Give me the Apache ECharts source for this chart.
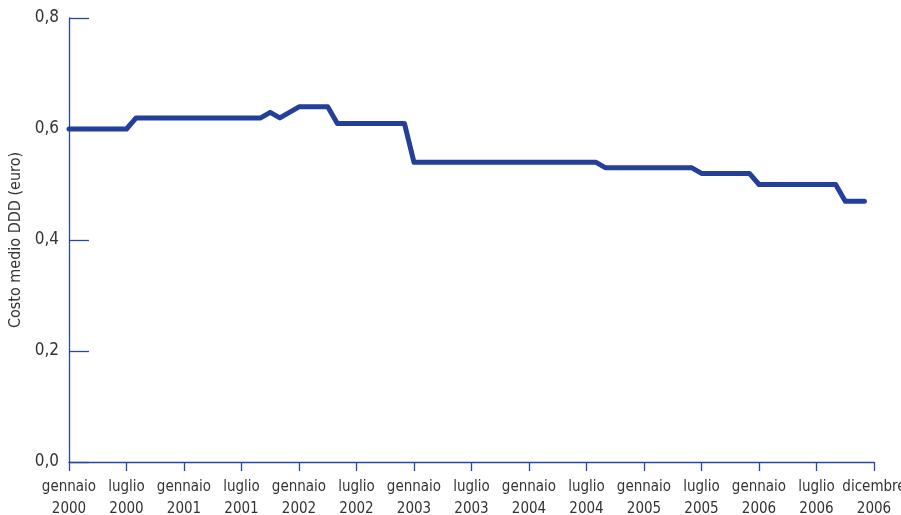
<!DOCTYPE html>
<html>
<head>
<meta charset="utf-8">
<script src="https://cdn.jsdelivr.net/npm/echarts@6/dist/echarts.min.js"></script>
<style>html,body{margin:0;padding:0;background:#fff}#c{width:901px;height:515px}</style>
</head>
<body>
<div id="c"></div>
<script>
// Month index (0 = gennaio 2000) and average cost per DDD (euro)
const months = [0, 6, 7, 20, 21, 22, 23, 24, 27, 28, 35, 36, 55, 56, 65, 66, 71, 72, 80, 81, 83];
const costs  = [0.60, 0.60, 0.62, 0.62, 0.63, 0.62, 0.63, 0.64, 0.64, 0.61, 0.61, 0.54, 0.54, 0.53, 0.53, 0.52, 0.52, 0.50, 0.50, 0.47, 0.47];
const xTickLabels = ['gennaio\n2000','luglio\n2000','gennaio\n2001','luglio\n2001','gennaio\n2002','luglio\n2002','gennaio\n2003','luglio\n2003','gennaio\n2004','luglio\n2004','gennaio\n2005','luglio\n2005','gennaio\n2006','luglio\n2006','dicembre\n2006'];
const yTicks = [0, 0.2, 0.4, 0.6, 0.8];
const yTitle = 'Costo medio DDD (euro)';

const axisColor = '#2b45a0';
const lineColor = '#233f99';
const font = '"DejaVu Sans Condensed", "Open Sans", sans-serif';

const chart = echarts.init(document.getElementById('c'));
chart.setOption({
  animation: false,
  grid: {left: 69, right: 27, top: 18, bottom: 53, containLabel: false, outerBoundsMode: 'none'},
  xAxis: {
    type: 'value', min: 0, max: 84, interval: 6,
    axisLine: {show: true, lineStyle: {color: axisColor, width: 1.3}},
    axisTick: {show: true, length: 9, lineStyle: {color: axisColor, width: 1.3}},
    splitLine: {show: false},
    axisLabel: {
      color: '#333', fontFamily: font, fontSize: 15, lineHeight: 22, margin: 14,
      hideOverlap: false,
      formatter: v => xTickLabels[Math.round(v / 6)] || ''
    }
  },
  yAxis: {
    type: 'value', min: 0, max: 0.8, interval: 0.2,
    name: yTitle, nameLocation: 'middle', nameGap: 40,
    nameTextStyle: {color: '#333', fontFamily: font, fontSize: 16},
    axisLine: {show: true, lineStyle: {color: axisColor, width: 1.3}},
    axisTick: {show: true, inside: true, length: 20, lineStyle: {color: axisColor, width: 1.3}},
    splitLine: {show: false},
    axisLabel: {
      color: '#333', fontFamily: font, fontSize: 17, margin: 10,
      formatter: v => v.toFixed(1).replace('.', ',')
    }
  },
  series: [{
    type: 'line',
    data: months.map((m, i) => [m, costs[i]]),
    showSymbol: false,
    lineStyle: {color: lineColor, width: 5, cap: 'round', join: 'round'}
  }]
});
</script>
</body>
</html>
